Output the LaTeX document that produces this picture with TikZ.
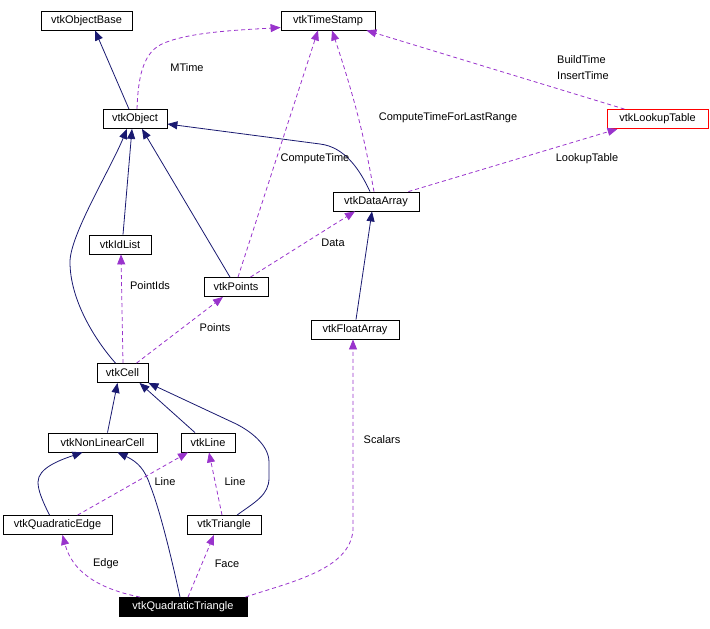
\documentclass[tikz,border=0pt]{standalone}
\usepackage{fontspec}
\setmainfont{Liberation Sans}
\usetikzlibrary{arrows.meta}
\definecolor{inhblue}{rgb}{0.10, 0.10, 0.44}
\definecolor{usepurple}{rgb}{0.60, 0.20, 0.80}

\begin{document}
\begin{tikzpicture}[x=1pt, y=-1pt, font=\fontsize{11}{13}\selectfont,
    cls/.style={draw, line width=0.8pt, minimum height=19pt, inner sep=0pt},
    inh/.style={draw=inhblue, line width=0.8pt, -{Triangle[length=10pt, width=8pt]}},
    uses/.style={draw=usepurple, line width=0.8pt, dash pattern=on 4pt off 3pt, -{Triangle[length=10pt, width=8pt]}},
    lbl/.style={inner sep=0pt}]

    \useasboundingbox (0,0) rectangle (710,629);

    \foreach \n/\x/\y/\w/\t in {objbase/86.5/20.5/91/vtkObjectBase, ts/328/20.5/94/vtkTimeStamp,
        obj/135/119/64/vtkObject, da/376/201.5/86/vtkDataArray, idlist/120/244.5/62/vtkIdList,
        pts/236/287/64/vtkPoints, fa/355/329.5/88/vtkFloatArray, cell/122.5/373/51/vtkCell,
        nlc/102.5/442.5/109/vtkNonLinearCell, vline/208/442.5/54/vtkLine,
        qe/57.5/525/109/vtkQuadraticEdge, tri/224/525/74/vtkTriangle} {
        \node[cls, minimum width=\w pt] (\n) at (\x,\y) {\t};
    }
    \node[cls, draw=red, minimum width=101pt] (lut) at (657.5,119) {vtkLookupTable};
    \node[cls, fill=black, text=white, minimum width=128pt] (qt) at (183,607) {vtkQuadraticTriangle};

    % inheritance
    \draw[inh] ([xshift=-6pt]obj.north) -- ([xshift=8.5pt]objbase.south);
    \draw[inh] ([xshift=-6pt]da.north) .. controls (360,170) and (345,147) .. (320,144) -- ([yshift=-5pt]obj.east);
    \draw[inh] ([xshift=3pt]idlist.north) -- ([xshift=-3pt]obj.south);
    \draw[inh] ([xshift=-6pt]pts.north) -- ([xshift=7pt]obj.south);
    \draw[inh] ([xshift=-7pt]cell.north) .. controls (95,340) and (70,300) .. (70,262)
        .. controls (70,235) and (110,170) .. ([xshift=-8pt]obj.south);
    \draw[inh] ([xshift=1pt]fa.north) -- ([xshift=-4pt]da.south);
    \draw[inh] ([xshift=5pt]nlc.north) -- ([xshift=-5pt]cell.south);
    \draw[inh] ([xshift=-13pt]vline.north) -- ([xshift=17pt]cell.south);
    \draw[inh] ([xshift=13pt]tri.north) .. controls (255,502) and (269,495) .. (269,478) -- (269,462)
        .. controls (269,445) and (250,430) .. (232,422) -- (cell.south east);
    \draw[inh] ([xshift=-8pt]qe.north) .. controls (42,500) and (38,490) .. (38,482)
        .. controls (38,468) and (60,460) .. ([xshift=-20pt]nlc.south);
    \draw[inh] ([xshift=-3pt]qt.north) .. controls (172,560) and (160,510) .. (150,485)
        .. controls (145,470) and (138,462) .. ([xshift=15pt]nlc.south);

    % usage
    \draw[uses] ([xshift=2pt]obj.north) .. controls (138,80) and (142,55) .. (160,45)
        .. controls (185,32) and (240,30) .. ([yshift=-7pt]ts.west);
    \draw[uses] ([xshift=2pt]pts.north) -- ([xshift=-10pt]ts.south);
    \draw[uses] ([xshift=-2pt]da.north) .. controls (368,160) and (362,120) .. ([xshift=4pt]ts.south);
    \draw[uses] ([xshift=-33pt]lut.north) -- ([xshift=-9pt]ts.south east);
    \draw[uses] ([xshift=-11pt]da.north east) -- ([xshift=11pt]lut.south west);
    \draw[uses] ([xshift=-18pt]pts.north east) -- ([xshift=-21pt]da.south);
    \draw[uses] ([xshift=0.5pt]cell.north) -- ([xshift=1pt]idlist.south);
    \draw[uses] ([xshift=14pt]cell.north) -- ([xshift=-13pt]pts.south);
    \draw[uses] ([xshift=-2pt]qt.north east) .. controls (290,582) and (350,570) .. (353,530) -- ([xshift=-2pt]fa.south);
    \draw[uses] ([xshift=20pt]qe.north) -- ([xshift=-20pt]vline.south);
    \draw[uses] ([xshift=-2pt]tri.north) -- ([xshift=1pt]vline.south);
    \draw[uses] ([xshift=-43pt]qt.north) .. controls (95,588) and (72,570) .. ([xshift=5pt]qe.south);
    \draw[uses] ([xshift=5pt]qt.north) -- ([xshift=-10pt]tri.south);

    \foreach \n/\x/\y/\t in {lmtime/187/68/MTime, lctime/315/159/ComputeTime,
        lctflr/448/118/ComputeTimeForLastRange, llut/587/159/LookupTable, ldata/333/243/Data,
        lptids/150/286/PointIds, lpts/215/328/Points, lscal/382/440/Scalars, lline/165/482/Line,
        lline2/235/482/Line, ledge/106/564/Edge, lface/227/564/Face} {
        \node[lbl] (\n) at (\x,\y) {\t};
    }
    \node[lbl, align=left, anchor=west] (lbuild) at (557,68) {BuildTime\\[3pt]InsertTime};
\end{tikzpicture}
\end{document}
